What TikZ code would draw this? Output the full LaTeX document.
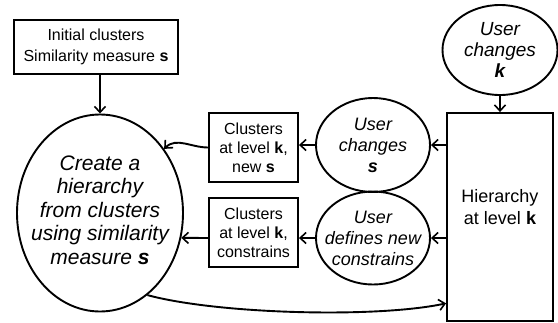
\documentclass[tikz,border=0pt]{standalone}
\usepackage{fontspec}
\setmainfont{Liberation Sans}
\usetikzlibrary{shapes.geometric, arrows.meta}

\begin{document}
\begin{tikzpicture}[x=1pt, y=-1pt, line width=1.9pt,
  >={Straight Barb[length=6pt, width=11pt, line width=1.6pt]},
  box/.style = {draw, rectangle, align=center, inner sep=2pt, font=\fontsize{16}{19}\selectfont},
  oval/.style = {draw, ellipse, inner sep=0pt},
  ovaltext/.style = {align=center, font=\fontsize{18}{21}\selectfont\itshape}]
\useasboundingbox (0,0) rectangle (558,322);

\node[box, minimum width=164, minimum height=54, font=\fontsize{16}{21}\selectfont] (init) at (96,47) {Initial clusters\\Similarity measure \textbf{s}};
\node[oval, minimum width=166, minimum height=197,
  label={[ovaltext, yshift=3pt, font=\fontsize{21}{23.5}\selectfont\itshape]center:Create a\\hierarchy\\from clusters\\using similarity\\measure \textbf{s}}] (main) at (100,213) {};

\node[box, minimum width=89, minimum height=69] (cs) at (253.5,147.5) {Clusters\\at level \textbf{k},\\new \textbf{s}};
\node[box, minimum width=89, minimum height=69] (cc) at (253.5,232.5) {Clusters\\at level \textbf{k},\\constrains};

\node[oval, minimum width=114, minimum height=94,
  label={[ovaltext]center:User\\changes\\\textbf{s}}] (us) at (373,145) {};
\node[oval, minimum width=114, minimum height=93,
  label={[ovaltext]center:User\\defines new\\constrains}] (un) at (373,238) {};

\node[draw, rectangle, minimum width=106, minimum height=208,
  label={[align=center, yshift=10pt, font=\fontsize{18}{22}\selectfont]center:Hierarchy\\at level \textbf{k}}] (hier) at (500,217) {};
\node[oval, minimum width=115, minimum height=90,
  label={[ovaltext, font=\fontsize{19}{21}\selectfont\itshape]center:User\\changes\\\textbf{k}}] (uk) at (500,50) {};

\draw [->] (init.south -| main.north) -- (main.north);
\draw [->] (uk) -- (hier);
\draw [->] (hier.west |- us) -- (us);
\draw [->] (us.west) -- (us.west -| cs.east);
\draw [->] (hier.west |- un) -- (un);
\draw [->] (un.west) -- (un.west -| cc.east);
\draw [->] (cs.west) to[out=180, in=45] (main.45);
\draw [->] (un.west -| cc.west) -- (main.-17);
\draw [->] (main.-60) .. controls +(70,19) and +(-70,15) .. (hier.238);

\end{tikzpicture}
\end{document}
